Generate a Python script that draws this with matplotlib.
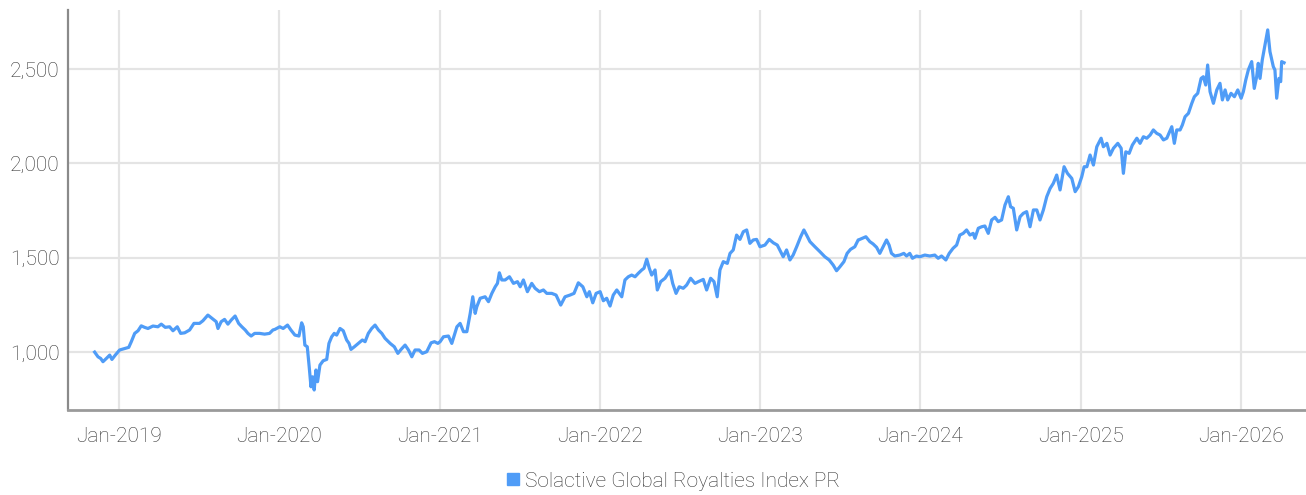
import datetime as dt
import numpy as np
import matplotlib
matplotlib.use("Agg")
import matplotlib.pyplot as plt
import matplotlib.dates as mdates
from matplotlib.ticker import FuncFormatter, FixedLocator
from matplotlib.lines import Line2D

# ---- data (time in decimal years, index level) ----
t_year = [
    2018.848, 2018.869, 2018.886, 2018.900, 2018.921, 2018.942, 2018.956, 2018.977,
    2019.004, 2019.036, 2019.061, 2019.077, 2019.098, 2019.119, 2019.139, 2019.160,
    2019.181, 2019.212, 2019.243, 2019.264, 2019.289, 2019.316, 2019.337, 2019.364,
    2019.385, 2019.410, 2019.441, 2019.468, 2019.503, 2019.524, 2019.555, 2019.580,
    2019.607, 2019.618, 2019.638, 2019.659, 2019.680, 2019.701, 2019.725, 2019.747,
    2019.767, 2019.788, 2019.805, 2019.825, 2019.847, 2019.878, 2019.909, 2019.940,
    2019.961, 2019.973, 2020.004, 2020.025, 2020.052, 2020.073, 2020.098, 2020.123,
    2020.140, 2020.150, 2020.160, 2020.175, 2020.187, 2020.198, 2020.208, 2020.218,
    2020.229, 2020.239, 2020.254, 2020.274, 2020.296, 2020.310, 2020.327, 2020.343,
    2020.358, 2020.379, 2020.399, 2020.420, 2020.435, 2020.447, 2020.468, 2020.493,
    2020.518, 2020.535, 2020.555, 2020.576, 2020.597, 2020.618, 2020.639, 2020.659,
    2020.691, 2020.717, 2020.739, 2020.759, 2020.784, 2020.805, 2020.826, 2020.846,
    2020.871, 2020.892, 2020.919, 2020.946, 2020.967, 2020.988,
    2021.002, 2021.023, 2021.054, 2021.075, 2021.107, 2021.127, 2021.148, 2021.169,
    2021.190, 2021.206, 2021.221, 2021.231, 2021.252, 2021.283, 2021.304, 2021.325,
    2021.346, 2021.360, 2021.372, 2021.387, 2021.408, 2021.435, 2021.460, 2021.485,
    2021.502, 2021.522, 2021.547, 2021.574, 2021.595, 2021.622, 2021.647, 2021.668,
    2021.699, 2021.726, 2021.755, 2021.782, 2021.813, 2021.838, 2021.865, 2021.893,
    2021.918, 2021.934, 2021.955, 2021.976,
    2022.001, 2022.021, 2022.042, 2022.063, 2022.083, 2022.105, 2022.136, 2022.156,
    2022.177, 2022.198, 2022.219, 2022.239, 2022.261, 2022.275, 2022.292, 2022.308,
    2022.323, 2022.344, 2022.358, 2022.379, 2022.406, 2022.437, 2022.454, 2022.475,
    2022.495, 2022.520, 2022.541, 2022.566, 2022.593, 2022.614, 2022.645, 2022.666,
    2022.691, 2022.712, 2022.732, 2022.749, 2022.770, 2022.795, 2022.812, 2022.832,
    2022.853, 2022.874, 2022.895, 2022.916, 2022.936, 2022.957, 2022.978, 2022.999,
    2023.030, 2023.057, 2023.082, 2023.107, 2023.128, 2023.144, 2023.165, 2023.186,
    2023.206, 2023.228, 2023.253, 2023.273, 2023.290, 2023.311, 2023.342, 2023.373,
    2023.404, 2023.431, 2023.456, 2023.477, 2023.498, 2023.523, 2023.543, 2023.564,
    2023.591, 2023.612, 2023.622, 2023.660, 2023.685, 2023.705, 2023.727, 2023.747,
    2023.768, 2023.789, 2023.805, 2023.820, 2023.841, 2023.872, 2023.897, 2023.914,
    2023.934, 2023.951, 2023.976, 2023.997,
    2024.028, 2024.059, 2024.090, 2024.111, 2024.132, 2024.159, 2024.180, 2024.204,
    2024.226, 2024.246, 2024.267, 2024.288, 2024.309, 2024.329, 2024.340, 2024.361,
    2024.382, 2024.402, 2024.423, 2024.444, 2024.465, 2024.485, 2024.506, 2024.527,
    2024.548, 2024.562, 2024.579, 2024.600, 2024.621, 2024.641, 2024.662, 2024.683,
    2024.704, 2024.725, 2024.745, 2024.766, 2024.787, 2024.808, 2024.828, 2024.849,
    2024.870, 2024.895, 2024.916, 2024.943, 2024.964, 2024.984,
    2025.005, 2025.020, 2025.037, 2025.057, 2025.078, 2025.099, 2025.126, 2025.140,
    2025.162, 2025.182, 2025.203, 2025.230, 2025.251, 2025.265, 2025.280, 2025.301,
    2025.321, 2025.349, 2025.369, 2025.390, 2025.411, 2025.432, 2025.452, 2025.473,
    2025.494, 2025.515, 2025.536, 2025.567, 2025.583, 2025.598, 2025.619, 2025.633,
    2025.650, 2025.671, 2025.692, 2025.708, 2025.729, 2025.750, 2025.764, 2025.779,
    2025.791, 2025.806, 2025.827, 2025.848, 2025.868, 2025.883, 2025.900, 2025.916,
    2025.937, 2025.958, 2025.979,
    2026.000, 2026.014, 2026.029, 2026.045, 2026.066, 2026.082, 2026.097, 2026.107,
    2026.118, 2026.132, 2026.149, 2026.166, 2026.180, 2026.201, 2026.211, 2026.222,
    2026.236, 2026.247, 2026.253, 2026.268,
]
index_level = [
    1000, 975, 966, 949, 966, 984, 961, 984,
    1011, 1019, 1025, 1055, 1099, 1113, 1139, 1131,
    1125, 1138, 1134, 1148, 1131, 1134, 1113, 1134,
    1099, 1102, 1117, 1152, 1152, 1166, 1196, 1179,
    1161, 1125, 1161, 1173, 1148, 1170, 1191, 1152,
    1134, 1117, 1099, 1085, 1099, 1099, 1095, 1099,
    1117, 1120, 1134, 1125, 1143, 1117, 1090, 1085,
    1155, 1134, 1037, 1028, 922, 816, 869, 799,
    905, 843, 931, 954, 961, 1046, 1081, 1099,
    1090, 1125, 1113, 1064, 1046, 1014, 1028, 1046,
    1064, 1055, 1099, 1125, 1143, 1117, 1099, 1073,
    1046, 1028, 993, 1014, 1037, 1011, 975, 1011,
    1011, 993, 1002, 1049, 1055, 1046,
    1055, 1081, 1085, 1046, 1134, 1152, 1108, 1108,
    1205, 1293, 1205, 1240, 1285, 1293, 1267, 1311,
    1346, 1364, 1420, 1382, 1382, 1399, 1364, 1373,
    1346, 1382, 1320, 1364, 1338, 1320, 1329, 1311,
    1311, 1302, 1249, 1293, 1302, 1311, 1367, 1346,
    1293, 1320, 1261, 1311,
    1320, 1272, 1285, 1244, 1302, 1329, 1293, 1382,
    1399, 1408, 1399, 1417, 1435, 1444, 1492, 1444,
    1408, 1435, 1329, 1373, 1391, 1431, 1364, 1311,
    1346, 1338, 1355, 1391, 1364, 1373, 1385, 1329,
    1391, 1373, 1293, 1435, 1479, 1470, 1523, 1541,
    1620, 1597, 1638, 1647, 1576, 1594, 1597, 1558,
    1567, 1597, 1579, 1567, 1532, 1505, 1541, 1488,
    1514, 1558, 1611, 1647, 1620, 1585, 1558, 1532,
    1505, 1488, 1461, 1431, 1452, 1479, 1523, 1544,
    1558, 1594, 1597, 1611, 1585, 1573, 1555, 1523,
    1558, 1594, 1567, 1523, 1509, 1514, 1523, 1509,
    1523, 1497, 1509, 1505,
    1514, 1509, 1514, 1497, 1509, 1488, 1523, 1550,
    1567, 1620, 1629, 1647, 1620, 1629, 1603, 1656,
    1664, 1668, 1629, 1700, 1714, 1691, 1700, 1779,
    1823, 1770, 1762, 1647, 1717, 1735, 1744, 1664,
    1753, 1753, 1700, 1753, 1823, 1867, 1894, 1938,
    1859, 1982, 1947, 1920, 1850, 1876,
    1929, 1982, 1982, 2044, 1991, 2088, 2133, 2088,
    2106, 2044, 2080, 2106, 2080, 1947, 2061, 2053,
    2097, 2133, 2106, 2141, 2133, 2150, 2177, 2159,
    2150, 2124, 2133, 2194, 2106, 2177, 2177, 2203,
    2247, 2265, 2318, 2353, 2371, 2450, 2459, 2415,
    2521, 2380, 2318, 2389, 2424, 2336, 2389, 2336,
    2371, 2353, 2389,
    2345, 2380, 2442, 2495, 2539, 2397, 2459, 2530,
    2450, 2548, 2627, 2707, 2592, 2512, 2495, 2345,
    2450, 2433, 2539, 2533,
]
series_name = "Solactive Global Royalties Index PR"
y_ticks = [1000, 1500, 2000, 2500]
x_tick_years = [2019, 2020, 2021, 2022, 2023, 2024, 2025, 2026]


def year_to_date(y):
    yr = int(np.floor(y))
    start = dt.datetime(yr, 1, 1)
    end = dt.datetime(yr + 1, 1, 1)
    return start + (end - start) * (y - yr)


dates = [year_to_date(v) for v in t_year]

FONT = ["Roboto", "DejaVu Sans"]
plt.rcParams["font.family"] = FONT
plt.rcParams["font.weight"] = "light"

LINE_COLOR = "#4f9cf7"
GRID_COLOR = "#e4e4e4"
TEXT_COLOR = "#333333"

fig = plt.figure(figsize=(13.06, 4.95), dpi=100)
ax = fig.add_axes([0.0521, 0.1717, 0.9479, 0.8083])

ax.plot(dates, index_level, color=LINE_COLOR, lw=2.3, solid_joinstyle="round", zorder=3)

ax.set_xlim(year_to_date(2018.682), year_to_date(2026.405))
ax.set_ylim(693, 2813)

ax.xaxis.set_major_locator(FixedLocator([mdates.date2num(dt.datetime(y, 1, 1)) for y in x_tick_years]))
ax.xaxis.set_major_formatter(mdates.DateFormatter("%b-%Y"))
ax.yaxis.set_major_locator(FixedLocator(y_ticks))
ax.yaxis.set_major_formatter(FuncFormatter(lambda v, p: f"{v:,.0f}"))

ax.grid(True, color=GRID_COLOR, lw=1.6, zorder=0)
ax.set_axisbelow(True)

for s in ["top", "right"]:
    ax.spines[s].set_visible(False)
ax.spines["left"].set_color("#8a8a8a")
ax.spines["left"].set_linewidth(1.6)
ax.spines["bottom"].set_color("#9a9a9a")
ax.spines["bottom"].set_linewidth(2.0)

ax.tick_params(axis="both", length=0, labelsize=15, labelcolor=TEXT_COLOR)
ax.tick_params(axis="x", pad=12)
ax.tick_params(axis="y", pad=6)
for lab in ax.get_xticklabels() + ax.get_yticklabels():
    lab.set_fontweight("light")

handle = Line2D([], [], marker="s", linestyle="none", markersize=8,
                markerfacecolor=LINE_COLOR, markeredgecolor=LINE_COLOR)
leg = fig.legend([handle], [series_name], loc="center", bbox_to_anchor=(0.515, 0.028),
                 frameon=False, fontsize=15, handletextpad=0.2, labelcolor=TEXT_COLOR,
                 handlelength=0.8, prop={"weight": "light", "size": 15})

fig.savefig("out.png", dpi=100)
